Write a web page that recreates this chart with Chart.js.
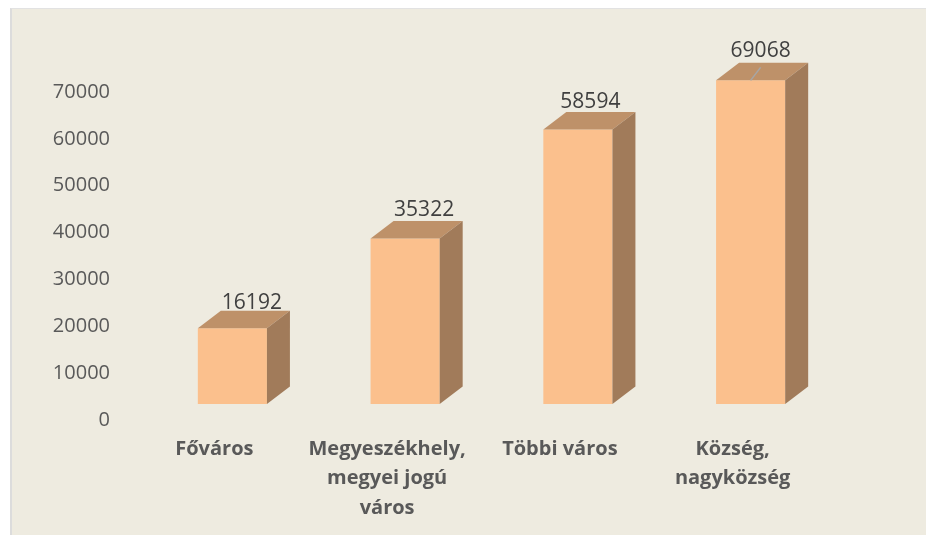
<!DOCTYPE html>
<html>
<head>
<meta charset="utf-8">
<style>
html,body{margin:0;padding:0;background:#fff;width:926px;height:535px;overflow:hidden}
#panel{position:absolute;left:10px;top:8px;width:916px;height:527px;background:#EEEBE0;border-left:2px solid #dcdcdc;border-top:1px solid #e2e2e2;box-sizing:border-box}
#wrap{position:absolute;left:0;top:0;width:926px;height:535px}
</style>
<script src="https://cdn.jsdelivr.net/npm/chart.js@4"></script>
</head>
<body>
<div id="panel"></div>
<div id="wrap"><canvas id="c" width="926" height="535"></canvas></div>
<script>
const categories = ["Főváros", ["Megyeszékhely,", "megyei jogú", "város"], "Többi város", ["Község,", "nagyközség"]];
const values = [16192, 35322, 58594, 69068];
const labelFont = '"Open Sans", sans-serif';
const textGray = '#595959';

const labelShiftX = [19.5, 19, 12.5, 10];
const labelShiftY = [-25, -28.5, -27.5, -29];

const cube = {
  id: 'cube',
  afterDatasetsDraw(chart) {
    const ctx = chart.ctx;
    const meta = chart.getDatasetMeta(0);
    const dx = 23, dy = 17.5;
    meta.data.forEach((bar, i) => {
      const l = bar.x - bar.width / 2, r = bar.x + bar.width / 2;
      const t = bar.y, b = bar.base;
      ctx.save();
      ctx.fillStyle = '#BE9169';
      ctx.beginPath();
      ctx.moveTo(l, t); ctx.lineTo(l + dx, t - dy); ctx.lineTo(r + dx, t - dy); ctx.lineTo(r, t);
      ctx.closePath(); ctx.fill();
      ctx.fillStyle = '#A17B5A';
      ctx.beginPath();
      ctx.moveTo(r, t); ctx.lineTo(r + dx, t - dy); ctx.lineTo(r + dx, b - dy); ctx.lineTo(r, b);
      ctx.closePath(); ctx.fill();
      if (i === values.length - 1) {
        ctx.strokeStyle = '#A6A6A6'; ctx.lineWidth = 1.5;
        ctx.beginPath(); ctx.moveTo(bar.x, t); ctx.lineTo(bar.x + 10, t - 13); ctx.stroke();
      }
      ctx.fillStyle = '#404040';
      ctx.font = '21px ' + labelFont;
      ctx.textAlign = 'center';
      ctx.textBaseline = 'middle';
      ctx.fillText(String(values[i]), bar.x + labelShiftX[i], t + labelShiftY[i]);
      ctx.restore();
    });
  }
};

new Chart(document.getElementById('c'), {
  type: 'bar',
  data: {
    labels: categories,
    datasets: [{
      data: values,
      yAxisID: 'yFront',
      backgroundColor: '#FBC08D',
      barPercentage: 0.4,
      categoryPercentage: 1,
      clip: false
    }]
  },
  plugins: [cube],
  options: {
    responsive: false,
    animation: false,
    layout: { padding: { top: 92, right: 89, left: 0, bottom: 0 } },
    plugins: { legend: { display: false }, tooltip: { enabled: false } },
    scales: {
      x: {
        grid: { display: false, drawTicks: false },
        border: { display: false },
        afterFit(s) { s.height = 115; },
        ticks: {
          color: textGray,
          maxRotation: 0,
          autoSkip: false,
          labelOffset: -18,
          padding: 14,
          font: { family: labelFont, size: 20, weight: 'bold', lineHeight: 1.48 }
        }
      },
      y: {
        min: 0, max: 70000,
        grid: { display: false, drawTicks: false },
        border: { display: false },
        afterFit(s) { s.width = 146; },
        ticks: {
          stepSize: 10000,
          color: textGray,
          padding: 36,
          callback: v => String(v),
          font: { family: labelFont, size: 20 }
        }
      },
      yFront: {
        display: false,
        min: -3415, max: 66585
      }
    }
  }
});
</script>
</body>
</html>
